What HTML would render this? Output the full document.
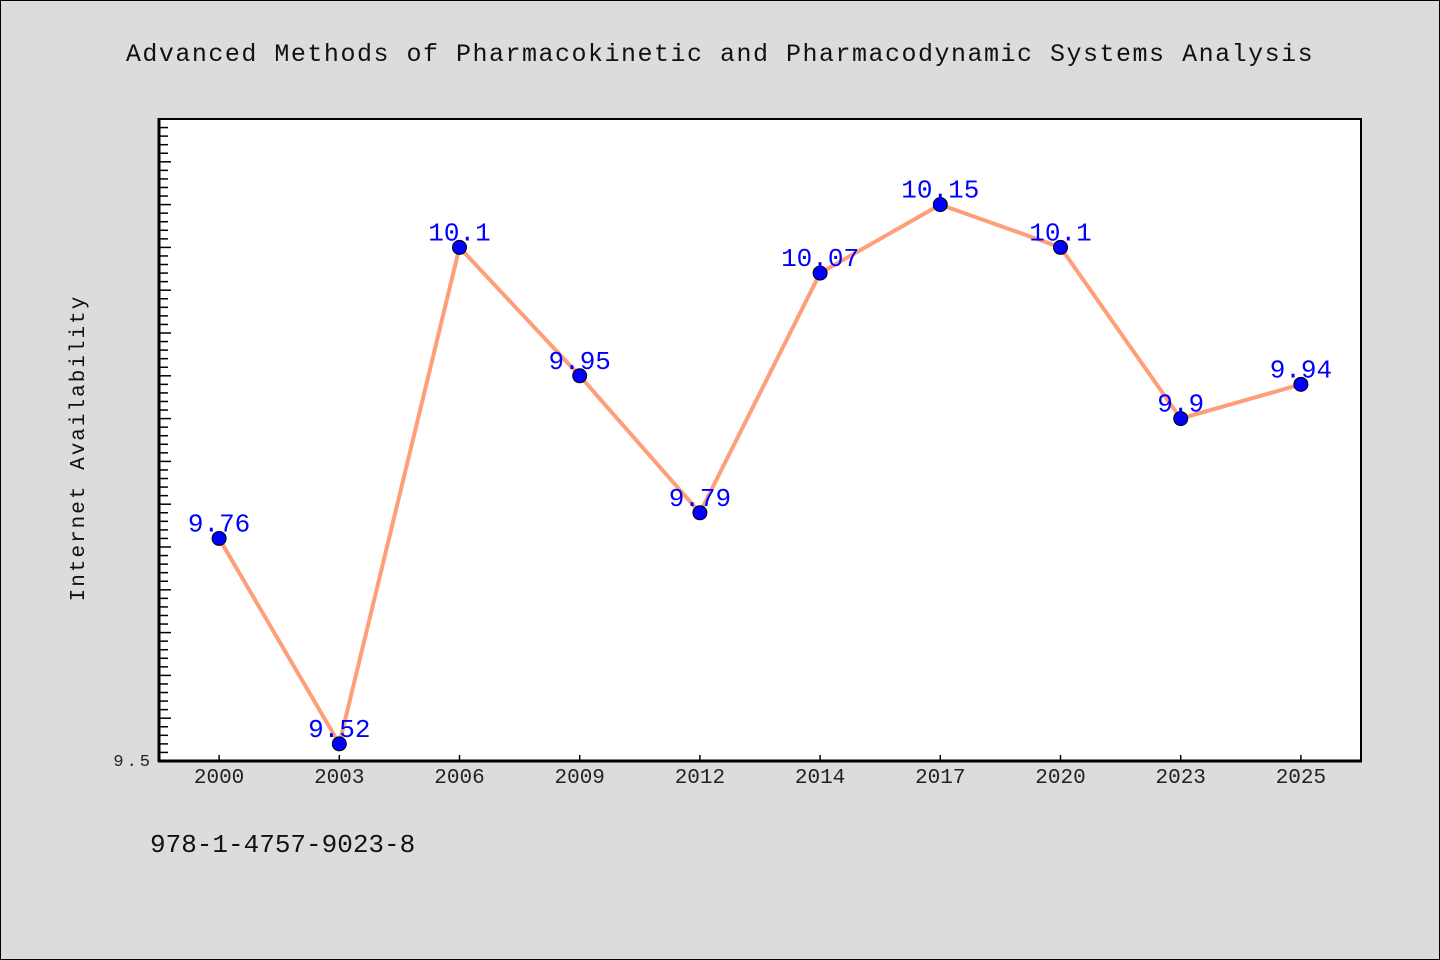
<!DOCTYPE html>
<html><head><meta charset="utf-8"><style>
body{margin:0;background:#dcdcdc;}
svg{display:block;font-family:"WenQuanYi Zen Hei","Liberation Mono",monospace;}
</style></head><body>
<svg id="c" width="1440" height="960">
<rect x="0.5" y="0.5" width="1439" height="959" fill="#dcdcdc" stroke="#000"/>
<text x="720" y="61" text-anchor="middle" font-size="25" fill="#111" letter-spacing="1.5">Advanced Methods of Pharmacokinetic and Pharmacodynamic Systems Analysis</text>
<rect x="159" y="119" width="1202" height="642" fill="#fff" stroke="#000" stroke-width="2"/>
<line x1="159" y1="118" x2="159" y2="762" stroke="#000" stroke-width="3"/>
<line x1="158" y1="761" x2="1362" y2="761" stroke="#000" stroke-width="3"/>
<text transform="translate(84,448) rotate(-90)" text-anchor="middle" font-size="21" fill="#111" letter-spacing="2">Internet Availability</text>
<text x="150" y="852" font-size="26" fill="#111">978-1-4757-9023-8</text>
<g id="g"></g>
</svg>
<script>
const categories=["2000","2003","2006","2009","2012","2014","2017","2020","2023","2025"];
const values=[9.76,9.52,10.1,9.95,9.79,10.07,10.15,10.1,9.9,9.94];
const yTickLabels=["9.5"];
const L=159,R=1361,T=119,B=761,yMin=9.5,yMax=10.25;
const band=(R-L)/categories.length;
const xs=i=>L+band*(i+0.5);
const ys=v=>B-(v-yMin)/(yMax-yMin)*(B-T);
const g=document.getElementById('g');
const NS="http://www.w3.org/2000/svg";
function mk(t,a){const e=document.createElementNS(NS,t);for(const k in a)e.setAttribute(k,a[k]);g.appendChild(e);return e;}
// y ticks
for(let k=0;k<=75;k++){const v=yMin+k*0.01;const y=ys(v);if(y<T+2)break;const major=k%5===0;
const t=mk('line',{x1:L,x2:L+(major?12:9),y1:y,y2:y,stroke:'#000','stroke-width':1.5});

}
yTickLabels.forEach(s=>{const t=mk('text',{x:L-6,y:ys(parseFloat(s))+5,'text-anchor':'end','font-size':17,fill:'#222','letter-spacing':'3'});t.textContent=s;

});
categories.forEach((c,i)=>{const x=xs(i);
const t=mk('line',{x1:x,x2:x,y1:B,y2:B-6,stroke:'#000','stroke-width':1.5});


const l=mk('text',{x:x,y:B+22,'text-anchor':'middle','font-size':21,fill:'#222'});l.textContent=c;

});
const pl=mk('polyline',{points:values.map((v,i)=>xs(i)+','+ys(v)).join(' '),fill:'none',stroke:'#ff9f7a','stroke-width':4,'stroke-linejoin':'round'});


values.forEach((v,i)=>{const p=mk('circle',{cx:xs(i),cy:ys(v),r:7,fill:'#0000ff',stroke:'#000','stroke-width':1});


const l=mk('text',{x:xs(i),y:ys(v)-7,'text-anchor':'middle','font-size':26,fill:'#0000ff'});l.textContent=String(v);

});
</script>
</body></html>
